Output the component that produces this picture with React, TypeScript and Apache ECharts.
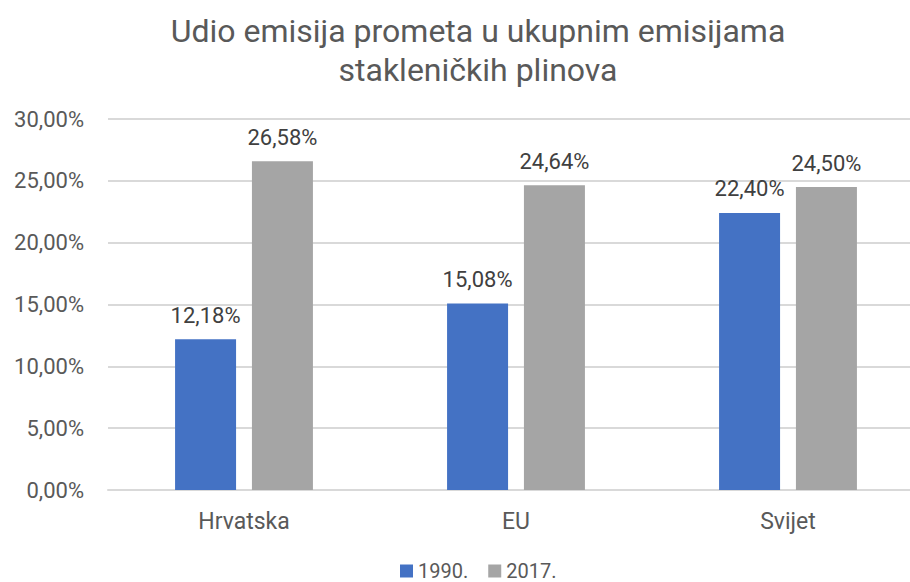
import React, { useEffect, useRef } from "react";
import * as echarts from "echarts";

const categories = ["Hrvatska", "EU", "Svijet"];
const series1990 = [12.18, 15.08, 22.4];
const series2017 = [26.58, 24.64, 24.5];
const seriesNames = ["1990.", "2017."];
const titleText = "Udio emisija prometa u ukupnim emisijama\nstakleničkih plinova";

const fmt = (v: number) => v.toFixed(2).replace(".", ",") + "%";
const FONT = "Roboto, 'Noto Sans', sans-serif";

export default function App() {
  const ref = useRef<HTMLDivElement>(null);
  useEffect(() => {
    if (!ref.current) return;
    const chart = echarts.init(ref.current, undefined, { renderer: "svg" });
    const labelStyle = {
      show: true,
      position: "top" as const,
      distance: 13,
      color: "#404040",
      fontSize: 22,
      fontFamily: FONT,
      fontWeight: "normal" as any,
      formatter: (p: any) => fmt(p.value),
    };
    chart.setOption({
      animation: false,
      textStyle: { fontFamily: FONT },
      title: {
        text: titleText,
        left: 473,
        top: 6,
        textAlign: "center",
        textStyle: {
          color: "#595959",
          fontSize: 32,
          fontWeight: "normal",
          lineHeight: 39,
          fontFamily: FONT,
        },
      },
      legend: {
        data: seriesNames,
        top: 561,
        left: 400,
        padding: 0,
        icon: "rect",
        itemWidth: 13,
        itemHeight: 13,
        itemGap: 20,
        textStyle: { color: "#595959", fontSize: 20, lineHeight: 20, fontFamily: FONT },
      },
      grid: { left: 108, top: 119, width: 816, height: 371, containLabel: false },
      xAxis: {
        type: "category",
        data: categories,
        axisLine: { show: true, lineStyle: { color: "#d9d9d9", width: 2 } },
        axisTick: { show: false },
        axisLabel: { color: "#595959", fontSize: 23, fontFamily: FONT, margin: 20 },
      },
      yAxis: {
        type: "value",
        min: 0,
        max: 30,
        interval: 5,
        axisLine: { show: false },
        axisTick: { show: false },
        splitLine: { lineStyle: { color: "#d9d9d9", width: 2 } },
        axisLabel: {
          color: "#595959",
          fontSize: 22,
          fontFamily: FONT,
          margin: 24,
          formatter: (v: number) => fmt(v),
        },
      },
      series: [
        {
          name: seriesNames[0],
          type: "bar",
          data: series1990,
          barWidth: 61,
          barGap: "26%",
          itemStyle: { color: "#4472c4" },
          label: labelStyle,
        },
        {
          name: seriesNames[1],
          type: "bar",
          data: series2017,
          barWidth: 61,
          itemStyle: { color: "#a5a5a5" },
          label: labelStyle,
        },
      ],
    });
    return () => chart.dispose();
  }, []);
  return (
    <div style={{ position: "absolute", left: 0, top: 0, width: 910, height: 582, overflow: "hidden" }}>
      <div ref={ref} style={{ width: 930, height: 582 }} />
    </div>
  );
}
